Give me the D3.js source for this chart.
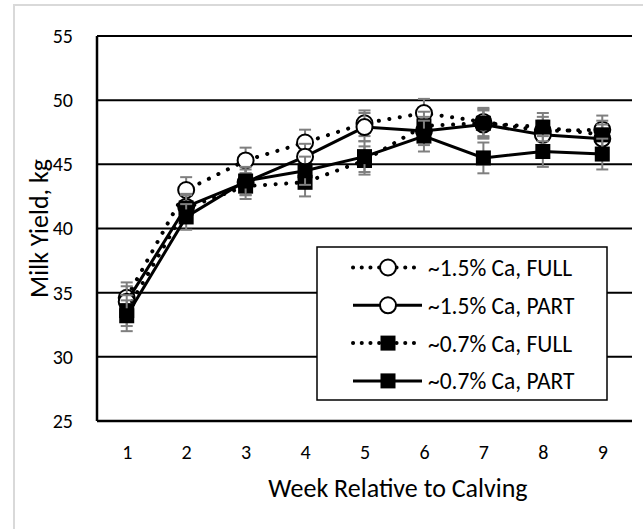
<!DOCTYPE html>
<html><head><meta charset="utf-8">
<script src="https://cdn.jsdelivr.net/npm/d3@7"></script>
<style>
body{margin:0;background:#fff;}
text{font-family:Carlito,Lato,"Open Sans",sans-serif;fill:#000;}
</style></head>
<body><svg id="c" width="643" height="529"></svg>
<script>
const weeks = [1,2,3,4,5,6,7,8,9];
const yTicks = [25,30,35,40,45,50,55];
const seriesNames = ["~1.5% Ca, FULL","~1.5% Ca, PART","~0.7% Ca, FULL","~0.7% Ca, PART"];
const highFull = [34.6,43.0,45.3,46.7,48.2,49.0,48.3,47.6,47.7];
const highPart = [34.3,41.7,43.6,45.6,47.9,47.6,48.1,47.3,47.0];
const lowFull  = [33.6,41.6,43.3,43.6,45.3,48.0,48.2,47.9,47.3];
const lowPart  = [33.2,40.9,43.7,44.5,45.6,47.2,45.5,46.0,45.8];
const highFullSE = [1.2,1.0,1.0,1.0,1.0,1.1,1.1,1.1,1.1];
const highPartSE = [1.2,1.0,1.0,1.0,1.1,1.1,1.1,1.1,1.1];
const lowFullSE  = [1.2,1.0,1.0,1.1,1.1,1.1,1.1,1.1,1.1];
const lowPartSE  = [1.2,1.0,1.1,1.1,1.2,1.2,1.2,1.2,1.2];

const series = [
  {name:seriesNames[0], vals:highFull, se:highFullSE, dotted:true,  marker:"circle"},
  {name:seriesNames[1], vals:highPart, se:highPartSE, dotted:false, marker:"circle"},
  {name:seriesNames[2], vals:lowFull,  se:lowFullSE,  dotted:true,  marker:"square"},
  {name:seriesNames[3], vals:lowPart,  se:lowPartSE,  dotted:false, marker:"square"}
];

const svg = d3.select("#c");
svg.append("rect").attr("x",14).attr("y",5).attr("width",640).attr("height",540)
  .attr("fill","#fff").attr("stroke","#d9d9d9").attr("stroke-width",2);

const L=97, R=632, T=36, B=421;
const x = d3.scalePoint().domain(weeks).range([L,R]).padding(0.5);
const y = d3.scaleLinear().domain([25,55]).range([B,T]);

// gridlines
svg.append("g").selectAll("line").data(yTicks.slice(1)).join("line")
  .attr("x1",L).attr("x2",R).attr("y1",d=>y(d)).attr("y2",d=>y(d))
  .attr("stroke","#000").attr("stroke-width",2);

// axes
const yAxis = svg.append("g").attr("transform",`translate(${L},0)`)
  .call(d3.axisLeft(y).tickValues(yTicks).tickSize(0).tickPadding(24));
yAxis.select(".domain").remove();
yAxis.selectAll("text").attr("font-size",20).attr("font-family","Carlito,Lato,sans-serif");
const xAxis = svg.append("g").attr("transform",`translate(0,${B})`)
  .call(d3.axisBottom(x).tickSize(0).tickPadding(24));
xAxis.select(".domain").remove();
xAxis.selectAll("text").attr("font-size",20).attr("font-family","Carlito,Lato,sans-serif");
svg.append("line").attr("x1",L).attr("x2",L).attr("y1",T).attr("y2",B).attr("stroke","#000").attr("stroke-width",2.5);
svg.append("line").attr("x1",L).attr("x2",R).attr("y1",B).attr("y2",B).attr("stroke","#000").attr("stroke-width",2.5);

svg.append("text").attr("x",398).attr("y",497).attr("text-anchor","middle")
  .attr("font-size",26).text("Week Relative to Calving");
svg.append("text").attr("transform",`translate(48,${(T+B)/2}) rotate(-90)`).attr("text-anchor","middle")
  .attr("font-size",26).text("Milk Yield, kg");

const line = d3.line().x((d,i)=>x(weeks[i])).y(d=>y(d));

function drawMarker(g, type, cx, cy){
  if(type==="circle"){
    g.append("circle").attr("cx",cx).attr("cy",cy).attr("r",8)
      .attr("fill","#fff").attr("stroke","#000").attr("stroke-width",2);
  } else {
    g.append("rect").attr("x",cx-7.5).attr("y",cy-7.5).attr("width",15).attr("height",15)
      .attr("fill","#000");
  }
}

series.forEach(s=>{
  const g = svg.append("g");
  s.vals.forEach((v,i)=>{
    const cx = x(weeks[i]);
    const eg = g.append("g").attr("stroke","#7f7f7f").attr("stroke-width",2);
    eg.append("line").attr("x1",cx).attr("x2",cx).attr("y1",y(v+s.se[i])).attr("y2",y(v-s.se[i]));
    eg.append("line").attr("x1",cx-6).attr("x2",cx+6).attr("y1",y(v+s.se[i])).attr("y2",y(v+s.se[i]));
    eg.append("line").attr("x1",cx-6).attr("x2",cx+6).attr("y1",y(v-s.se[i])).attr("y2",y(v-s.se[i]));
  });
  const p = g.append("path").attr("d",line(s.vals)).attr("fill","none").attr("stroke","#000");
  if(s.dotted) p.attr("stroke-width",4).attr("stroke-linecap","round").attr("stroke-dasharray","0.1 10.5");
  else p.attr("stroke-width",3).attr("stroke-linecap","round");
  s.vals.forEach((v,i)=>drawMarker(g, s.marker, x(weeks[i]), y(v)));
});

// legend
const lg = svg.append("g");
lg.append("rect").attr("x",317).attr("y",247).attr("width",290).attr("height",153)
  .attr("fill","#fff").attr("stroke","#000").attr("stroke-width",1.5);
series.forEach((s,i)=>{
  const cy = 267.5 + i*37.8;
  const p = lg.append("line").attr("x1",353).attr("x2",422).attr("y1",cy).attr("y2",cy).attr("stroke","#000");
  if(s.dotted) p.attr("stroke-width",4).attr("stroke-linecap","round").attr("stroke-dasharray","0.1 8.6");
  else p.attr("stroke-width",3);
  drawMarker(lg, s.marker, 388, cy);
  lg.append("text").attr("x",428).attr("y",cy).attr("dy","0.36em").attr("font-size",23.5).text(s.name);
});
</script></body></html>
